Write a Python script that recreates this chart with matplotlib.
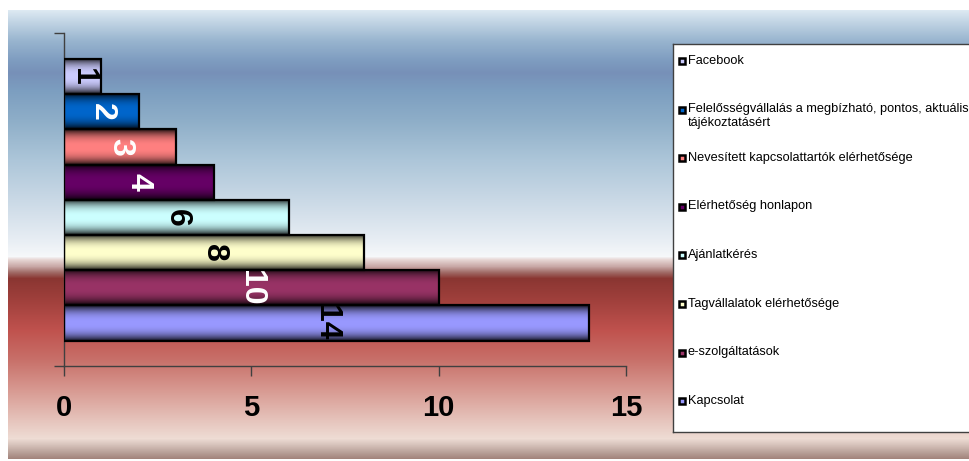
import numpy as np
import matplotlib
matplotlib.use('Agg')
import matplotlib.pyplot as plt
from matplotlib.patches import Rectangle
from matplotlib.colors import to_rgb

plt.rcParams['font.family'] = ['Liberation Sans', 'DejaVu Sans']

# data (legend order, top bar first)
labels = ['Facebook',
          'Felelősségvállalás a megbízható, pontos, aktuális\ntájékoztatásért',
          'Nevesített kapcsolattartók elérhetősége',
          'Elérhetőség honlapon',
          'Ajánlatkérés',
          'Tagvállalatok elérhetősége',
          'e-szolgáltatások',
          'Kapcsolat']
values = [1, 2, 3, 4, 6, 8, 10, 14]
colors = ['#ccccff', '#0066cc', '#ff8080', '#660066',
          '#ccffff', '#ffffcc', '#993366', '#9999ff']
label_colors = ['black', 'white', 'white', 'white',
                'black', 'black', 'white', 'black']
xticks = [0, 5, 10, 15]

W, H = 970, 461
fig = plt.figure(figsize=(W / 100, H / 100), dpi=100)

# background gradient (blue sky over red)
stops = [(0, '#dde9f2'), (10, '#c5d7e6'), (30, '#99b5cf'), (50, '#7e9cc0'),
         (62, '#7790b8'), (80, '#7c9ec0'), (110, '#8eaec8'), (150, '#adc6d9'),
         (190, '#cad9e6'), (230, '#e8eef4'), (246, '#f6f8fa'), (249, '#e8d8d6'),
         (256, '#c8a8a6'), (262, '#a06a66'), (268, '#8a3632'), (290, '#a0403c'),
         (320, '#c0524e'), (350, '#c8716a'), (380, '#d89a92'), (410, '#e6c4bc'),
         (428, '#eedcd4'), (434, '#d8c4bc'), (442, '#b8a098'), (449, '#a08078')]
ys = np.arange(449)
sy = [s[0] for s in stops]
sc = np.array([to_rgb(s[1]) for s in stops])
grad = np.stack([np.interp(ys, sy, sc[:, k]) for k in range(3)], axis=1)
bg = fig.add_axes([8 / W, 2 / H, 962 / W, 449 / H], zorder=-1)
bg.imshow(grad[:, None, :], aspect='auto', extent=[0, 1, 449, 0])
bg.axis('off')

# main axes
ax = fig.add_axes([64 / W, 95 / H, 562 / W, 333 / H])
ax.set_facecolor('none')
ypos = np.arange(len(values))[::-1]
bars = ax.barh(ypos, values, height=1, facecolor='none', edgecolor='black',
               linewidth=1.6, zorder=3)

t = np.linspace(0, 1, 60)
shade = 0.12 + 0.88 * (1 - np.abs(2 * t - 1) ** 2.5)
for b, c, v, lc in zip(bars, colors, values, label_colors):
    rgb = np.array(to_rgb(c))
    img = shade[:, None, None] * rgb[None, None, :]
    x0, y0, w, h = b.get_x(), b.get_y(), b.get_width(), b.get_height()
    ax.imshow(img, extent=[x0, x0 + w, y0, y0 + h], aspect='auto',
              origin='lower', zorder=2)
    ax.text(x0 + w / 2, y0 + h / 2, str(v), rotation=-90, ha='center',
            va='center', fontsize=23, fontweight='bold', color=lc, zorder=4)

ax.set_xlim(0, 15)
ax.set_ylim(-1.22, 8.24)
ax.set_xticks(xticks)
ax.set_xticklabels([str(x) for x in xticks], fontsize=21, fontweight='bold')
ax.set_yticks([-1.22, 8.24])
ax.set_yticklabels([])
ax.tick_params(axis='x', direction='out', length=7, width=1, color='#404040', pad=13)
ax.tick_params(axis='y', direction='out', length=7, width=1, color='#404040')
for s in ['top', 'right']:
    ax.spines[s].set_visible(False)
for s in ['left', 'bottom']:
    ax.spines[s].set_color('#404040')
    ax.spines[s].set_linewidth(1)

# legend box (runs off the right edge)
lg = fig.add_axes([673 / W, 29 / H, 330 / W, 388 / H])
lg.set_xlim(0, 330)
lg.set_ylim(388, 0)
lg.set_facecolor('white')
lg.set_xticks([])
lg.set_yticks([])
for s in lg.spines.values():
    s.set_color('#404040')
    s.set_linewidth(1)
lg.spines['right'].set_visible(False)
for i, (lab, c) in enumerate(zip(labels, colors)):
    y = 17 + 48.6 * i
    lg.add_patch(Rectangle((6, y - 3), 6, 6, facecolor=c, edgecolor='black',
                           linewidth=1.8))
    lg.text(15, y - 6.5, lab, fontsize=9.2, va='top', ha='left', linespacing=1.25)

fig.savefig('out.png', dpi=100)
